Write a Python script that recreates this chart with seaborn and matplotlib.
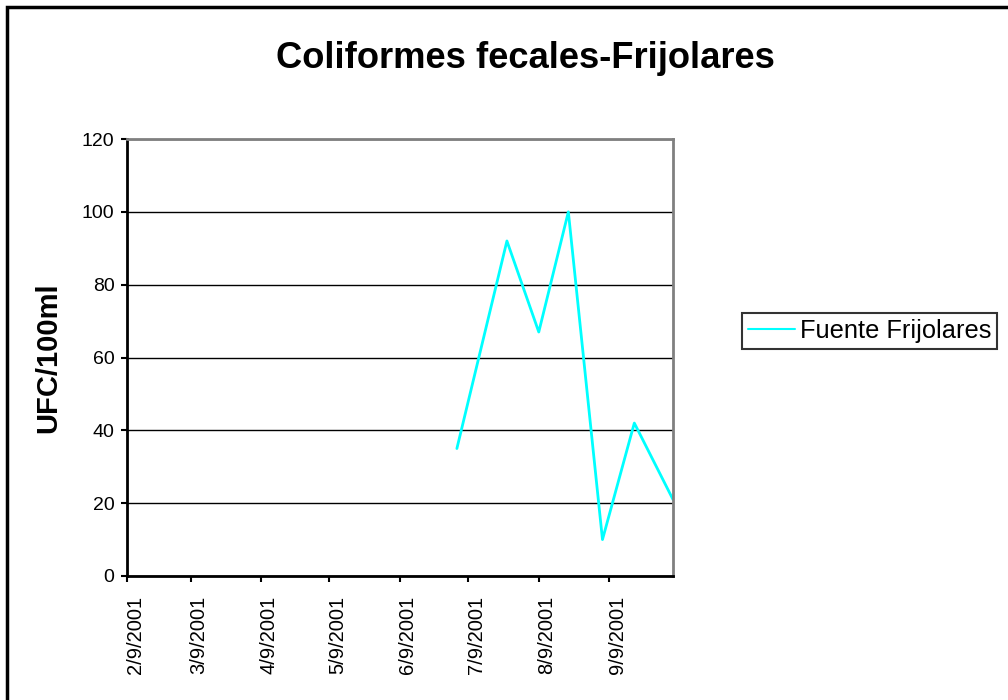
import pandas as pd
import numpy as np
import matplotlib.pyplot as plt
import matplotlib.transforms as mtransforms
import seaborn as sns
from matplotlib.patches import Rectangle

# data
fechas = ["2001-07-04", "2001-07-26", "2001-08-09", "2001-08-22",
          "2001-09-06", "2001-09-20", "2001-10-07"]
ufc = [35, 92, 67, 100, 10, 42, 21]
serie = "Fuente Frijolares"

ticks = ["2001-02-09", "2001-03-09", "2001-04-09", "2001-05-09",
         "2001-06-09", "2001-07-09", "2001-08-09", "2001-09-09"]
tick_labels = ["2/9/2001", "3/9/2001", "4/9/2001", "5/9/2001",
               "6/9/2001", "7/9/2001", "8/9/2001", "9/9/2001"]

df = pd.DataFrame({"Fecha": pd.to_datetime(fechas), "UFC": ufc, "Serie": serie})

sns.set_style("white")
plt.rcParams["font.family"] = ["Liberation Sans", "DejaVu Sans"]
plt.rcParams["text.color"] = "black"
plt.rcParams["axes.labelcolor"] = "black"
plt.rcParams["xtick.color"] = "black"
plt.rcParams["ytick.color"] = "black"

fig = plt.figure(figsize=(10.08, 7.0), dpi=100)
ax = fig.add_axes([127 / 1008, 1 - 576 / 700, (673 - 127) / 1008, (576 - 139) / 700])

sns.lineplot(data=df, x="Fecha", y="UFC", hue="Serie", palette=["#00FFFF"],
             linewidth=2, ax=ax)

ax.set_xlim(pd.Timestamp("2001-02-09"), pd.Timestamp("2001-10-07"))
ax.set_ylim(0, 120)
ax.set_yticks(range(0, 121, 20))
ax.yaxis.grid(True, color="black", linewidth=1)
ax.xaxis.grid(False)
ax.set_xticks(pd.to_datetime(ticks))
ax.set_xticklabels(tick_labels, rotation=90, fontsize=14.5)
ax.tick_params(axis="y", labelsize=14, pad=5)
ax.tick_params(axis="x", pad=10)
ax.tick_params(direction="out", length=4, width=1.5, color="black", bottom=True, left=True)

# Excel puts the rotated date labels a bit right of the tick
shift = mtransforms.ScaledTranslation(8 / 100, 0, fig.dpi_scale_trans)
for lab in ax.get_xticklabels():
    lab.set_transform(lab.get_transform() + shift)

for s in ["left", "bottom"]:
    ax.spines[s].set_color("black")
    ax.spines[s].set_linewidth(2)
for s in ["top", "right"]:
    ax.spines[s].set_color("#808080")
    ax.spines[s].set_linewidth(2)

ax.set_xlabel("")
ax.set_ylabel("UFC/100ml", fontsize=21, fontweight="bold", va="center")
ax.yaxis.set_label_coords((48 - 127) / 546, 0.5)
fig.text(525 / 1008, 1 - 67.5 / 700, "Coliformes fecales-Frijolares",
         ha="center", va="baseline", fontsize=26.2, fontweight="bold")

leg = ax.legend(loc="center left", bbox_to_anchor=(742 / 1008, 1 - 331 / 700),
                bbox_transform=fig.transFigure, fontsize=18.3, frameon=True,
                fancybox=False, edgecolor="black", handlelength=1.85,
                borderpad=0.22, handletextpad=0.22, borderaxespad=0)
leg.get_frame().set_linewidth(1.5)
for h in leg.get_lines():
    h.set_linewidth(1.5)

fig.patches.append(Rectangle((7 / 1008, -0.1), 1.2, 1 - 7 / 700 + 0.1,
                             transform=fig.transFigure, fill=False,
                             edgecolor="black", linewidth=2.5))

fig.savefig("out.png", dpi=100)
